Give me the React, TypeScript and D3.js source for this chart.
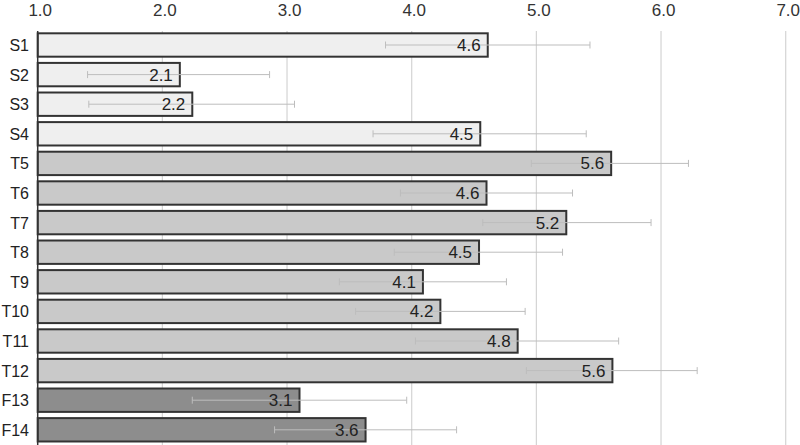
import React, { useEffect, useRef } from "react";
import * as d3 from "d3";

const categories = ["S1", "S2", "S3", "S4", "T5", "T6", "T7", "T8", "T9", "T10", "T11", "T12", "F13", "F14"];
const groups = ["S", "S", "S", "S", "T", "T", "T", "T", "T", "T", "T", "T", "F", "F"];
const means = [4.61, 2.14, 2.24, 4.55, 5.6, 4.6, 5.24, 4.54, 4.09, 4.23, 4.85, 5.61, 3.1, 3.63];
const labels = ["4.6", "2.1", "2.2", "4.5", "5.6", "4.6", "5.2", "4.5", "4.1", "4.2", "4.8", "5.6", "3.1", "3.6"];
const errLow = [3.79, 1.4, 1.41, 3.69, 4.96, 3.91, 4.57, 3.86, 3.42, 3.55, 4.03, 4.92, 2.24, 2.9];
const errHigh = [5.43, 2.86, 3.06, 5.4, 6.22, 5.29, 5.92, 5.21, 4.76, 4.91, 5.66, 6.29, 3.96, 4.36];
const ticks = [1, 2, 3, 4, 5, 6, 7];

const fills = { S: "#efefef", T: "#c9c9c9", F: "#8d8d8d" };
const font = "'Liberation Sans', Arial, sans-serif";

export default function App() {
	const svgRef = useRef(null);

	useEffect(() => {
		const width = 800,
			height = 445;

		const svg = d3.select(svgRef.current).attr("width", width).attr("height", height);
		svg.selectAll("*").remove();

		const x = d3.scaleLinear().domain([1, 7]).range([37.7, 785.7]);
		const y = d3
			.scaleBand()
			.domain(categories)
			.range([30.2, 444.6])
			.paddingInner(0.21)
			.paddingOuter(0.105);

		const rows = categories.map((c, i) => ({
			cat: c,
			group: groups[i],
			mean: means[i],
			label: labels[i],
			lo: errLow[i],
			hi: errHigh[i],
		}));

		// gridlines
		svg.append("g")
			.selectAll("line")
			.data(ticks.slice(1))
			.join("line")
			.attr("x1", (d) => x(d))
			.attr("x2", (d) => x(d))
			.attr("y1", 31)
			.attr("y2", height)
			.attr("stroke", "#d4d4d4")
			.attr("stroke-width", 1.2);

		// tick labels at top
		svg.append("g")
			.selectAll("text")
			.data(ticks)
			.join("text")
			.attr("x", (d) => x(d) + 2.5)
			.attr("y", 16)
			.attr("text-anchor", "middle")
			.attr("font-family", font)
			.attr("font-size", 17)
			.attr("fill", "#333")
			.text((d) => d.toFixed(1));

		// bars
		svg.append("g")
			.selectAll("rect")
			.data(rows)
			.join("rect")
			.attr("x", x(1))
			.attr("y", (d) => y(d.cat))
			.attr("width", (d) => x(d.mean) - x(1))
			.attr("height", y.bandwidth())
			.attr("fill", (d) => fills[d.group])
			.attr("stroke", "#333")
			.attr("stroke-width", 2);

		// error bars
		const eb = svg.append("g").attr("stroke", "#bdbdbd").attr("stroke-width", 1);
		rows.forEach((d) => {
			const cy = y(d.cat) + y.bandwidth() / 2;
			eb.append("line").attr("x1", x(d.lo)).attr("x2", x(d.hi)).attr("y1", cy).attr("y2", cy);
			eb.append("line").attr("x1", x(d.lo)).attr("x2", x(d.lo)).attr("y1", cy - 3.5).attr("y2", cy + 3.5);
			eb.append("line").attr("x1", x(d.hi)).attr("x2", x(d.hi)).attr("y1", cy - 3.5).attr("y2", cy + 3.5);
		});

		// value labels
		svg.append("g")
			.selectAll("text")
			.data(rows)
			.join("text")
			.attr("x", (d) => x(d.mean) - 7)
			.attr("y", (d) => y(d.cat) + y.bandwidth() / 2 + 6)
			.attr("text-anchor", "end")
			.attr("font-family", font)
			.attr("font-size", 17)
			.attr("fill", "#222")
			.text((d) => d.label);

		// category labels
		svg.append("g")
			.selectAll("text")
			.data(rows)
			.join("text")
			.attr("x", 29)
			.attr("y", (d) => y(d.cat) + y.bandwidth() / 2 + 6)
			.attr("text-anchor", "end")
			.attr("font-family", font)
			.attr("font-size", 16)
			.attr("fill", "#222")
			.text((d) => d.cat);

		// vertical axis line
		svg.append("line")
			.attr("x1", x(1))
			.attr("x2", x(1))
			.attr("y1", 31)
			.attr("y2", height)
			.attr("stroke", "#333")
			.attr("stroke-width", 1.5);
	}, []);

	return (
		<svg
			ref={svgRef}
			style={{ position: "absolute", left: 0, top: 0, display: "block", background: "#fff" }}
		></svg>
	);
}
